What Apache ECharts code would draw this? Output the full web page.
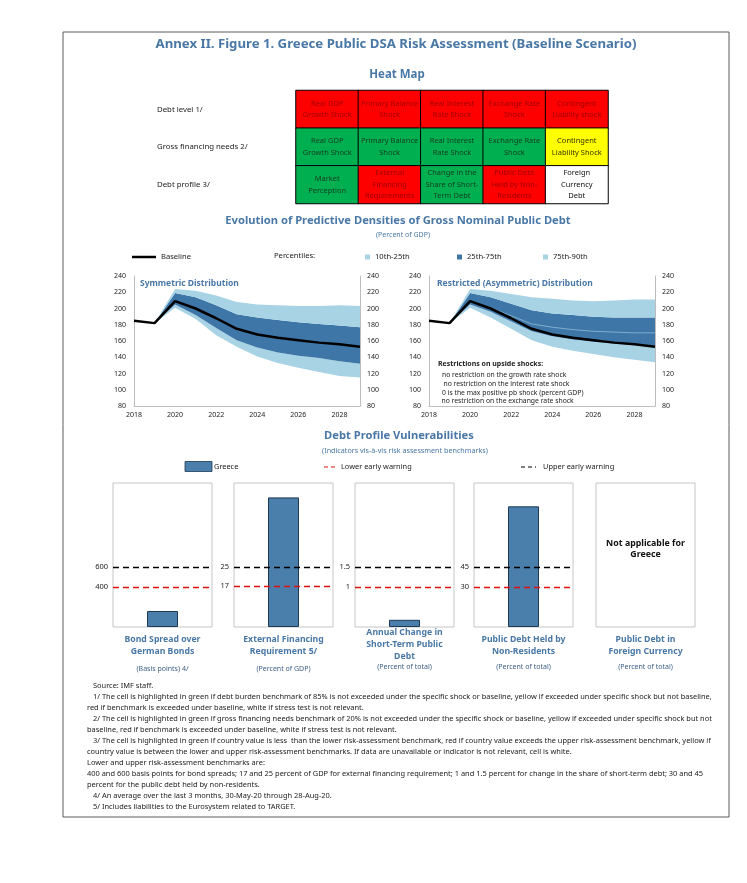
<!DOCTYPE html>
<html><head><meta charset="utf-8">
<script src="https://cdn.jsdelivr.net/npm/echarts@6/dist/echarts.min.js"></script>
<style>html,body{margin:0;padding:0;background:#fff;}#c{width:747px;height:883px;}</style>
</head><body><div id="c"></div><script>
const FONT = '"Noto Sans", "Open Sans", sans-serif';
const BLUE = '#4a78a6';
const LIGHT = '#a8d3e5';
const DARK = '#3d76a7';
const BAR = '#4a7eab';

// ---------- Heat map ----------
const heatRows = ['Debt level 1/', 'Gross financing needs 2/', 'Debt profile 3/'];
const heatCols = ['1', '2', '3', '4', '5'];
const heatTexts = [
  ['Real GDP\nGrowth Shock', 'Primary Balance\nShock', 'Real Interest\nRate Shock', 'Exchange Rate\nShock', 'Contingent\nLiability shock'],
  ['Real GDP\nGrowth Shock', 'Primary Balance\nShock', 'Real Interest\nRate Shock', 'Exchange Rate\nShock', 'Contingent\nLiability Shock'],
  ['Market\nPerception', 'External\nFinancing\nRequirements', 'Change in the\nShare of Short-\nTerm Debt', 'Public Debt\nHeld by Non-\nResidents', 'Foreign\nCurrency\nDebt']
];
// 0 = red, 1 = yellow, 2 = green, 3 = white
const heatStatus = [
  [0, 0, 0, 0, 0],
  [2, 2, 2, 2, 1],
  [2, 0, 2, 0, 3]
];

// ---------- Fan charts ----------
const years = ['2018','2019','2020','2021','2022','2023','2024','2025','2026','2027','2028','2029'];
const baseline = [185, 182, 209, 200, 188, 175, 168, 164, 161, 158, 156, 153];
const symP10 = [null, 182, 201, 187, 167, 153, 141, 133, 127, 122, 117, 115];
const symP25 = [null, 182, 205, 192, 176, 161, 152, 146, 142, 139, 135, 132];
const symP75 = [null, 182, 219, 214, 204, 193, 189, 186, 183, 181, 179, 177];
const symP90 = [null, 182, 224, 222, 216, 208, 205, 204, 203, 203, 204, 203];
const resP10 = [null, 182, 201, 189, 175, 161, 153, 148, 144, 140, 137, 134];
const resP25 = [null, 182, 205, 196, 184, 172, 166, 162, 159, 157, 155, 152];
const resP50 = [null, 182, 209, 201, 191, 181, 177, 174, 172, 171, 170, 170];
const resP75 = [null, 182, 219, 214, 206, 198, 194, 192, 190, 189, 189, 189];
const resP90 = [null, 182, 224, 222, 218, 214, 212, 210, 209, 210, 211, 211];
const fanTicks = [80, 240, 20];

// ---------- Debt profile ----------
const dpTitles = ['Bond Spread over\nGerman Bonds', 'External Financing\nRequirement 5/', 'Annual Change in\nShort-Term Public\nDebt', 'Public Debt Held by\nNon-Residents', 'Public Debt in\nForeign Currency'];
const dpUnits = ['(Basis points) 4/', '(Percent of GDP)', '(Percent of total)', '(Percent of total)', '(Percent of total)'];
const dpValues = [160, 54, 0.18, 90.5, null];
const dpLower = [400, 17, 1, 30, null];
const dpUpper = [600, 25, 1.5, 45, null];

const footnotes = [
  [93, 'Source: IMF staff.'],
  [93, '1/ The cell is highlighted in green if debt burden benchmark of 85% is not exceeded under the specific shock or baseline, yellow if exceeded under specific shock but not baseline,'],
  [87, 'red if benchmark is exceeded under baseline, white if stress test is not relevant.'],
  [93, '2/ The cell is highlighted in green if gross financing needs benchmark of 20% is not exceeded under the specific shock or baseline, yellow if exceeded under specific shock but not'],
  [87, 'baseline, red if benchmark is exceeded under baseline, white if stress test is not relevant.'],
  [93, '3/ The cell is highlighted in green if country value is less  than the lower risk-assessment benchmark, red if country value exceeds the upper risk-assessment benchmark, yellow if'],
  [87, 'country value is between the lower and upper risk-assessment benchmarks. If data are unavailable or indicator is not relevant, cell is white.'],
  [87, 'Lower and upper risk-assessment benchmarks are:'],
  [87, '400 and 600 basis points for bond spreads; 17 and 25 percent of GDP for external financing requirement; 1 and 1.5 percent for change in the share of short-term debt; 30 and 45'],
  [87, 'percent for the public debt held by non-residents.'],
  [93, '4/ An average over the last 3 months, 30-May-20 through 28-Aug-20.'],
  [93, '5/ Includes liabilities to the Eurosystem related to TARGET.']
];

// ---------- build ----------
const chart = echarts.init(document.getElementById('c'), null, {renderer: 'canvas'});

function T(x, y, text, size, o) {
  o = o || {};
  return {
    type: 'text', x: x, y: y, silent: true, z: 100,
    style: {
      text: text, fill: o.color || '#222',
      font: (o.bold ? 'bold ' : '') + size + 'px ' + FONT,
      textAlign: o.align || 'left', textVerticalAlign: o.valign || 'middle',
      lineHeight: o.lh || undefined
    }
  };
}

const statusColor = ['#ff0000', '#ffff00', '#00b050', '#ffffff'];
const statusText = ['#a00000', '#333300', '#163d22', '#111111'];

const grids = [];
const xAxes = [];
const yAxes = [];
const series = [];

// Heat map grid (index 0)
grids.push({left: 296, top: 90.5, width: 312, height: 113});
xAxes.push({gridIndex: 0, type: 'category', data: heatCols, show: false});
yAxes.push({gridIndex: 0, type: 'category', data: heatRows, inverse: true,
  axisLine: {show: false}, axisTick: {show: false}, splitLine: {show: false},
  axisLabel: {align: 'left', margin: 139, fontSize: 7.8, color: '#222', fontFamily: FONT}});
const heatData = [];
heatStatus.forEach((row, r) => row.forEach((s, c) => {
  heatData.push({value: [c, r, s], label: {color: statusText[s]}});
}));
series.push({
  type: 'heatmap', xAxisIndex: 0, yAxisIndex: 0, data: heatData,
  itemStyle: {borderColor: '#000', borderWidth: 1},
  label: {show: true, fontSize: 7.5, lineHeight: 11.5, fontFamily: FONT,
    formatter: p => heatTexts[p.value[1]][p.value[0]]},
  emphasis: {disabled: true}
});

// Fan charts (grid 1 and 2)
const fanGrids = [{left: 134, top: 276, width: 226, height: 130}, {left: 429, top: 276, width: 226, height: 130}];
const diff = (a, b) => a.map((v, i) => v == null ? null : v - b[i]);
function addFan(gi, p10, p25, p75, p90, p50) {
  grids.push(fanGrids[gi - 1]);
  const xi = xAxes.length;
  xAxes.push({gridIndex: gi, type: 'category', data: years, boundaryGap: false,
    axisLine: {lineStyle: {color: '#bdbdbd'}}, axisTick: {show: false},
    axisLabel: {interval: 1, fontSize: 7, color: '#222', margin: 5, fontFamily: FONT}});
  const yi = yAxes.length;
  ['left', 'right'].forEach(pos => yAxes.push({gridIndex: gi, type: 'value', position: pos,
    min: fanTicks[0], max: fanTicks[1], interval: fanTicks[2], splitLine: {show: false},
    axisLine: {show: true, lineStyle: {color: '#bdbdbd'}}, axisTick: {show: false},
    axisLabel: {fontSize: 7, color: '#222', margin: pos === 'left' ? 8 : 7, fontFamily: FONT}}));
  const st = 'fan' + gi;
  const common = {type: 'line', xAxisIndex: xi, yAxisIndex: yi, stack: st, symbol: 'none',
    lineStyle: {width: 0, opacity: 0}, silent: true, emphasis: {disabled: true}};
  series.push(Object.assign({}, common, {name: '_base' + gi, data: p10}));
  series.push(Object.assign({}, common, {name: '10th-25th', data: diff(p25, p10), color: LIGHT, itemStyle: {color: LIGHT}, areaStyle: {color: LIGHT, opacity: 1}}));
  series.push(Object.assign({}, common, {name: '25th-75th', data: diff(p75, p25), color: DARK, itemStyle: {color: DARK}, areaStyle: {color: DARK, opacity: 1}}));
  series.push(Object.assign({}, common, {name: '75th-90th', data: diff(p90, p75), color: LIGHT, itemStyle: {color: LIGHT}, areaStyle: {color: LIGHT, opacity: 1}}));
  if (p50) {
    series.push({type: 'line', xAxisIndex: xi, yAxisIndex: yi, name: '_median', data: p50, symbol: 'none',
      lineStyle: {width: 0.8, color: '#8fbcd8'}, silent: true, z: 3});
  }
  series.push({type: 'line', name: 'Baseline', xAxisIndex: xi, yAxisIndex: yi, data: baseline, symbol: 'none',
    color: '#000', itemStyle: {color: '#000'}, lineStyle: {width: 2.5, color: '#000'}, silent: true, z: 5});
}
addFan(1, symP10, symP25, symP75, symP90, null);
addFan(2, resP10, resP25, resP75, resP90, resP50);

// Debt profile panels (grids 3..7)
const panelLefts = [113, 234, 355, 474, 596];
dpValues.forEach((v, i) => {
  const gi = grids.length;
  grids.push({left: panelLefts[i], top: 483, width: 99, height: 144, show: true,
    borderColor: '#c6c6c6', borderWidth: 1, backgroundColor: '#fff'});
  const xi = xAxes.length;
  xAxes.push({gridIndex: gi, type: 'category', data: ['Greece'], show: false});
  const yi = yAxes.length;
  const mx = dpUpper[i] != null ? dpUpper[i] * 2.4 : 1;
  yAxes.push({gridIndex: gi, type: 'value', min: 0, max: mx, show: false});
  const s = {type: 'bar', name: 'Greece', xAxisIndex: xi, yAxisIndex: yi, barWidth: 31,
    data: [v], itemStyle: {color: BAR, borderColor: '#1e3a55', borderWidth: 1}, silent: true};
  if (dpUpper[i] != null) {
    s.markLine = {silent: true, symbol: 'none', animation: false,
      label: {position: 'start', distance: 5, fontSize: 7.5, color: '#222', fontFamily: FONT, formatter: '{c}'},
      data: [
        {yAxis: dpUpper[i], lineStyle: {color: '#000', type: [6, 4], width: 1.4}},
        {yAxis: dpLower[i], lineStyle: {color: '#e01010', type: [6, 4], width: 1.4}}
      ]};
  }
  series.push(s);
});

// Texts
const g = [];
g.push({type: 'rect', shape: {x: 63, y: 32, width: 666, height: 785}, style: {fill: 'none', stroke: '#5a5a5a', lineWidth: 1}, silent: true, z: 0});
g.push(T(396, 44, 'Annex II. Figure 1. Greece Public DSA Risk Assessment (Baseline Scenario)', 13.2, {bold: true, color: BLUE, align: 'center'}));
g.push(T(397, 75, 'Heat Map', 11.5, {bold: true, color: BLUE, align: 'center'}));
g.push(T(398, 221, 'Evolution of Predictive Densities of Gross Nominal Public Debt', 11.2, {bold: true, color: BLUE, align: 'center'}));
g.push(T(403, 235, '(Percent of GDP)', 7, {color: BLUE, align: 'center'}));
g.push(T(274, 256, 'Percentiles:', 7.6, {}));
g.push(T(140, 284, 'Symmetric Distribution', 8.5, {bold: true, color: BLUE}));
g.push(T(437, 284, 'Restricted (Asymmetric) Distribution', 8.5, {bold: true, color: BLUE}));
g.push(T(438, 364, 'Restrictions on upside shocks:', 7, {bold: true}));
g.push(T(442, 375, 'no restriction on the growth rate shock', 6.8, {}));
g.push(T(443.5, 384.5, 'no restriction on the interest rate shock', 6.8, {}));
g.push(T(442, 393, '0 is the max positive pb shock (percent GDP)', 6.8, {}));
g.push(T(441.5, 401, 'no restriction on the exchange rate shock', 6.8, {}));
g.push(T(399, 436, 'Debt Profile Vulnerabilities', 11.2, {bold: true, color: BLUE, align: 'center'}));
g.push(T(405, 451, '(Indicators vis-\u00e0-vis risk assessment benchmarks)', 7.2, {color: BLUE, align: 'center'}));
// debt profile legend
g.push({type: 'rect', shape: {x: 185, y: 461.5, width: 27, height: 10}, style: {fill: BAR, stroke: '#1e3a55', lineWidth: 0.8}, silent: true});
g.push(T(214, 466.5, 'Greece', 7.4, {}));
g.push({type: 'line', shape: {x1: 324, y1: 467, x2: 337, y2: 467}, style: {stroke: '#e01010', lineWidth: 1.2, lineDash: [4, 3]}, silent: true});
g.push(T(341, 466.5, 'Lower early warning', 7.4, {}));
g.push({type: 'line', shape: {x1: 521, y1: 467, x2: 536, y2: 467}, style: {stroke: '#000', lineWidth: 1.2, lineDash: [4, 3]}, silent: true});
g.push(T(543, 466.5, 'Upper early warning', 7.4, {}));
// panel titles
dpTitles.forEach((t, i) => {
  const cx = panelLefts[i] + 49.5;
  const lines = t.split('\n');
  const y0 = lines.length === 3 ? 633 : 640;
  lines.forEach((ln, k) => g.push(T(cx, y0 + 12 * k, ln, 8.7, {bold: true, color: BLUE, align: 'center'})));
  g.push(T(cx, lines.length === 3 || i > 2 ? 667 : 668.5, dpUnits[i], 7, {color: '#3d5f86', align: 'center'}));
});
g.push(T(645.5, 543, 'Not applicable for', 8.8, {bold: true, color: '#111', align: 'center'}));
g.push(T(645.5, 554.5, 'Greece', 8.8, {bold: true, color: '#111', align: 'center'}));
// footnotes
footnotes.forEach((f, i) => g.push(T(f[0], 686 + i * 11, f[1], 7.45, {color: '#222'})));

const legText = {fontSize: 7.6, color: '#222', fontFamily: FONT};
const option = {
  backgroundColor: '#fff',
  animation: false,
  grid: grids, xAxis: xAxes, yAxis: yAxes, series: series,
  visualMap: {type: 'piecewise', show: false, seriesIndex: 0, dimension: 2,
    pieces: statusColor.map((c, i) => ({value: i, color: c}))},
  legend: [
    {data: [{name: 'Baseline', icon: 'rect'}], left: 127, top: 248, itemWidth: 24, itemHeight: 2.5, textStyle: legText, selectedMode: false},
    {data: [{name: '10th-25th', icon: 'rect'}], left: 360, top: 248, itemWidth: 5, itemHeight: 5, textStyle: legText, selectedMode: false},
    {data: [{name: '25th-75th', icon: 'rect'}], left: 452, top: 248, itemWidth: 5, itemHeight: 5, textStyle: legText, selectedMode: false},
    {data: [{name: '75th-90th', icon: 'rect'}], left: 538, top: 248, itemWidth: 5, itemHeight: 5, textStyle: legText, selectedMode: false}
  ],
  graphic: g
};
chart.setOption(option);
</script></body></html>
